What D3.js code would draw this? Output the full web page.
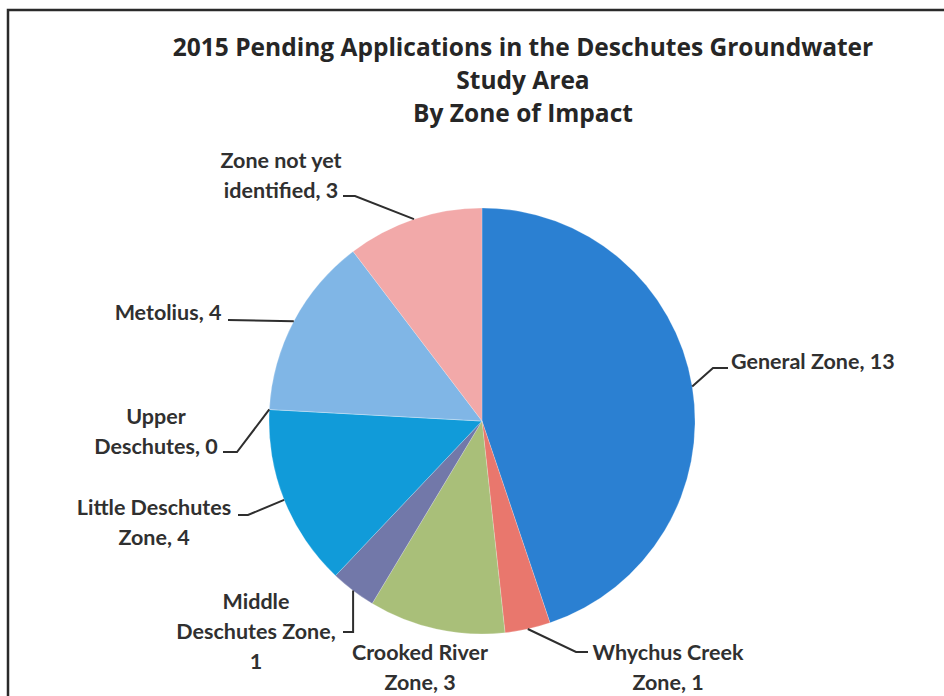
<!DOCTYPE html>
<html>
<head>
<meta charset="utf-8">
<script src="https://cdn.jsdelivr.net/npm/d3@7"></script>
<style>
  html, body { margin: 0; padding: 0; background: #fff; }
  svg { display: block; }
</style>
</head>
<body>
<svg id="chart" width="944" height="696"></svg>
<script>
// ---- data ----
const titleLines = ["2015 Pending Applications in the Deschutes Groundwater", "Study Area", "By Zone of Impact"];
const categories = ["General Zone", "Whychus Creek Zone", "Crooked River Zone", "Middle Deschutes Zone",
                    "Little Deschutes Zone", "Upper Deschutes", "Metolius", "Zone not yet identified"];
const values = [13, 1, 3, 1, 4, 0, 4, 3];
const labelLines = [
  ["General Zone, 13"],
  ["Whychus Creek", "Zone, 1"],
  ["Crooked River", "Zone, 3"],
  ["Middle", "Deschutes Zone,", "1"],
  ["Little Deschutes", "Zone, 4"],
  ["Upper", "Deschutes, 0"],
  ["Metolius, 4"],
  ["Zone not yet", "identified, 3"]
];
const colors = ["#2b80d2", "#e9776d", "#a9bf79", "#7278a9", "#119bd9", "#8a8a8a", "#80b6e6", "#f2a9a9"];

// ---- layout (not data) ----
const W = 944, H = 696;
const cx = 482, cy = 421, R = 213;
const fs = 21.5, lineH = 30;
const labelLayout = [
  { x: 731, y: 362, anchor: "start",  leader: [[713, 368], [728, 368]] },
  { x: 668, y: 653, anchor: "middle", leader: [[576, 652], [588, 652]] },
  { x: 420, y: 653, anchor: "middle", leader: null },
  { x: 256, y: 602, anchor: "middle", leader: [["s", 632], [343, 632]] },
  { x: 154, y: 508, anchor: "middle", leader: [[248, 515], [238, 515]] },
  { x: 156, y: 417, anchor: "middle", leader: [[237, 452], [223, 452]] },
  { x: 168, y: 313, anchor: "middle", leader: [[228, 320]] },
  { x: 281, y: 161, anchor: "middle", leader: [[355, 196], [343, 196]] }
];

const svg = d3.select("#chart");
const labelFont = "Lato, 'Open Sans', sans-serif";
const titleFont = "'Open Sans', Lato, sans-serif";

// frame
svg.append("path")
  .attr("d", `M8,${H} L8,10 L${W},10`)
  .attr("fill", "none").attr("stroke", "#2a2a2a").attr("stroke-width", 2.5);

// title
svg.append("text")
  .attr("text-anchor", "middle")
  .attr("font-family", titleFont).attr("font-weight", "bold").attr("font-size", 24.5)
  .attr("fill", "#262626")
  .selectAll("tspan").data(titleLines).join("tspan")
  .attr("x", 523).attr("y", (d, i) => 56 + i * 33)
  .text(d => d);

// pie
const pie = d3.pie().sort(null).value(d => d).startAngle(0).endAngle(2 * Math.PI);
const arcs = pie(values);
const arc = d3.arc().innerRadius(0).outerRadius(R);
const g = svg.append("g").attr("transform", `translate(${cx},${cy})`);
g.selectAll("path.slice").data(arcs).join("path")
  .attr("class", "slice")
  .attr("d", arc)
  .attr("fill", (d, i) => colors[i])
  .attr("stroke", "#ffffff").attr("stroke-opacity", 0.35).attr("stroke-width", 0.6);

// leader lines
const line = d3.line();
arcs.forEach((a, i) => {
  const L = labelLayout[i];
  if (!L.leader) return;
  const mid = (a.startAngle + a.endAngle) / 2;
  const sx = cx + R * Math.sin(mid), sy = cy - R * Math.cos(mid);
  const pts = [[sx, sy]].concat(L.leader.map(p => [p[0] === "s" ? sx : p[0], p[1]]));
  svg.append("path")
    .attr("d", line(pts))
    .attr("fill", "none").attr("stroke", "#2e2e2e").attr("stroke-width", 2);
});

// labels
labelLines.forEach((lines, i) => {
  const L = labelLayout[i];
  const t = svg.append("text")
    .attr("font-family", labelFont).attr("font-size", fs).attr("font-weight", "bold")
    .attr("fill", "#303030")
    .attr("text-anchor", L.anchor);
  lines.forEach((s, j) => {
    t.append("tspan").attr("x", L.x).attr("y", L.y + 7 + j * lineH).text(s);
  });
});
</script>
</body>
</html>
